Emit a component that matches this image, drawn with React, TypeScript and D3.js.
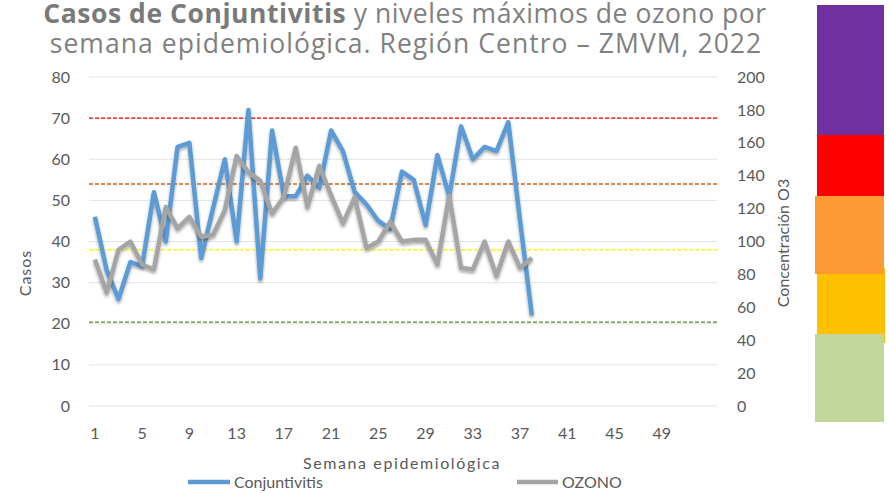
import * as d3 from "d3";

// semanas epidemiológicas (eje de categorías)
const weeks = d3.range(1, 54);
const weekTicks = [1, 5, 9, 13, 17, 21, 25, 29, 33, 37, 41, 45, 49];

// casos de conjuntivitis por semana (1-38)
const conjuntivitis = [
  46, 33, 26, 35, 34, 52, 40, 63, 64, 36, 48, 60, 40, 72, 31, 67, 51, 51, 56,
  53, 67, 62, 52, 49, 45, 43, 57, 55, 44, 61, 51, 68, 60, 63, 62, 69, 45, 22,
];

// ozono máximo semanal (ppb)
const ozono = [
  89, 69, 95, 100, 86, 83, 121, 108, 115, 103, 104, 119, 152, 142, 137, 117,
  127, 157, 121, 146, 128, 111, 127, 96, 100, 112, 100, 101, 101, 86, 128, 84,
  83, 100, 79, 100, 84, 90,
];

const casosTicks = [0, 10, 20, 30, 40, 50, 60, 70, 80];
const o3Ticks = [0, 20, 40, 60, 80, 100, 120, 140, 160, 180, 200];

// límites de calidad del aire (ppb)
const limitValues = [175, 135, 95, 51];
const limitColors = ["#ff0000", "#c8651b", "#ffff00", "#548235"];

// franjas de color a la derecha
const bandColors = ["#7030a0", "#ff0000", "#ffc000", "#ff9933", "#c4d79b"];

const FONT = "Lato, 'Open Sans', sans-serif";
const TICK = "#595959";

export default function App() {
  const W = 889;
  const H = 493;
  const plot = { left: 89, right: 715, top: 77, bottom: 406 };

  const x = d3.scaleBand<number>().domain(weeks).range([plot.left, plot.right]).padding(0);
  const cx = (w: number) => (x(w) ?? 0) + x.bandwidth() / 2;
  const yL = d3.scaleLinear().domain([0, 80]).range([plot.bottom, plot.top]);
  const yR = d3.scaleLinear().domain([0, 200]).range([plot.bottom, plot.top]);

  const lineL = d3.line<number>().x((_, i) => cx(weeks[i])).y((d) => yL(d));
  const lineR = d3.line<number>().x((_, i) => cx(weeks[i])).y((d) => yR(d));

  // layout of the decorative colour blocks
  const bandRects = [
    { x: 817, y: 5, w: 67, h: 130 },
    { x: 817, y: 135, w: 67, h: 64 },
    { x: 817, y: 268, w: 68, h: 75 },
    { x: 815, y: 196, w: 69, h: 78 },
    { x: 815, y: 334, w: 69, h: 88 },
  ];

  return (
    <svg
      width={W}
      height={H}
      style={{ position: "absolute", left: 0, top: 0, background: "#fff" }}
      fontFamily={FONT}
    >
      <defs>
        <filter id="shadow" x="-10%" y="-10%" width="120%" height="130%">
          <feDropShadow dx="0" dy="2" stdDeviation="1.6" floodColor="#000" floodOpacity="0.35" />
        </filter>
      </defs>

      {/* title */}
      <text x={405} y={23} textAnchor="middle" fontFamily="'Open Sans', sans-serif" fontSize={26.5} fill="#808080" letterSpacing={0.55}>
        <tspan fontWeight={700} fill="#7a7a7a">Casos de Conjuntivitis</tspan>
        <tspan> y niveles máximos de ozono por</tspan>
      </text>
      <text x={406} y={53} textAnchor="middle" fontFamily="'Open Sans', sans-serif" fontSize={26.5} fill="#808080" letterSpacing={1.05}>
        semana epidemiológica. Región Centro – ZMVM, 2022
      </text>

      {/* gridlines */}
      {casosTicks.map((t) => (
        <line key={"g" + t} x1={plot.left} x2={plot.right + 2} y1={yL(t)} y2={yL(t)} stroke="#e3e3e3" strokeWidth={1} />
      ))}

      {/* limit lines */}
      {limitValues.map((v, i) => (
        <line
          key={"l" + v}
          x1={plot.left}
          x2={plot.right + 2}
          y1={yR(v)}
          y2={yR(v)}
          stroke={limitColors[i]}
          strokeWidth={1.4}
          strokeDasharray="4,2"
        />
      ))}

      {/* left axis */}
      {casosTicks.map((t) => (
        <text key={"yl" + t} x={70} y={yL(t)} dy="0.35em" textAnchor="end" fontSize={16} fill={TICK}>
          {t}
        </text>
      ))}
      <text transform="translate(31,273) rotate(-90)" textAnchor="middle" fontSize={16} fill={TICK} letterSpacing={1}>
        Casos
      </text>

      {/* right axis */}
      {o3Ticks.map((t) => (
        <text key={"yr" + t} x={737} y={yR(t)} dy="0.35em" textAnchor="start" fontSize={16} fill={TICK}>
          {t}
        </text>
      ))}
      <text transform="translate(789,243) rotate(-90)" textAnchor="middle" fontSize={16} fill={TICK}>
        Concentración O3
      </text>

      {/* x axis */}
      {weekTicks.map((t) => (
        <text key={"x" + t} x={cx(t)} y={433} dy="0.35em" textAnchor="middle" fontSize={16} fill={TICK}>
          {t}
        </text>
      ))}
      <text x={402} y={463} dy="0.35em" textAnchor="middle" fontSize={16} fill={TICK} letterSpacing={1.6}>
        Semana epidemiológica
      </text>

      {/* series */}
      <path d={lineL(conjuntivitis) ?? ""} fill="none" stroke="#5b9bd5" strokeWidth={4.5} strokeLinejoin="round" filter="url(#shadow)" />
      <path d={lineR(ozono) ?? ""} fill="none" stroke="#a5a5a5" strokeWidth={4.5} strokeLinejoin="round" filter="url(#shadow)" />

      {/* legend */}
      <line x1={188} x2={230} y1={482} y2={482} stroke="#5b9bd5" strokeWidth={4.5} />
      <text x={234} y={482} dy="0.35em" fontSize={16} fill={TICK}>Conjuntivitis</text>
      <line x1={517} x2={558} y1={482} y2={482} stroke="#a5a5a5" strokeWidth={4.5} />
      <text x={562} y={482} dy="0.35em" fontSize={16} fill={TICK}>OZONO</text>

      {/* colour blocks */}
      {bandRects.map((r, i) => (
        <rect key={"b" + i} x={r.x} y={r.y} width={r.w} height={r.h} fill={bandColors[i]} />
      ))}
    </svg>
  );
}
